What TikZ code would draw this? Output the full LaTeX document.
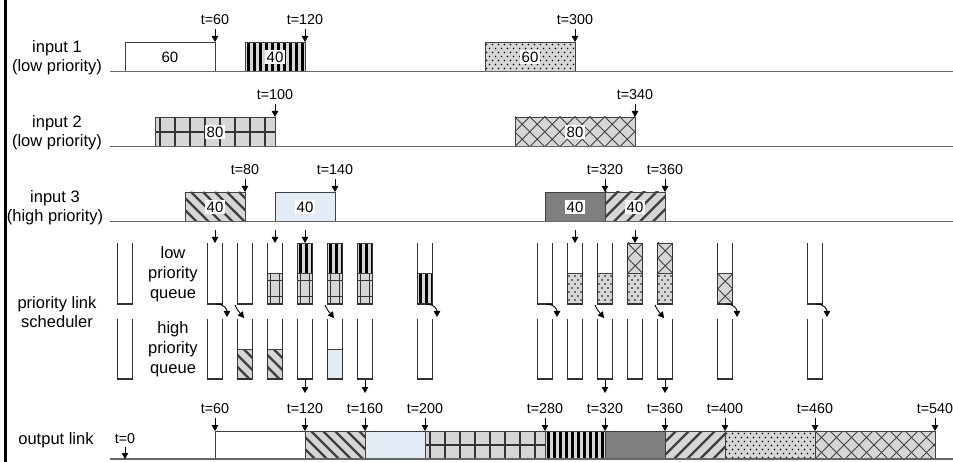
\documentclass[tikz,border=0pt]{standalone}
\usepackage{fontspec}
\setmainfont{Liberation Sans}
\usetikzlibrary{arrows.meta}
\definecolor{pg}{HTML}{D6D6D6}
\definecolor{lblue}{HTML}{E4EBF5}
\definecolor{dgray}{HTML}{7F7F7F}
\tikzset{
 lbl/.style={font=\fontsize{16.5}{19}\selectfont, align=center, inner sep=0pt},
 qlbl/.style={font=\fontsize{16.5}{20}\selectfont, align=center, inner sep=0pt},
 tlbl/.style={font=\fontsize{14.3}{15}\selectfont, inner sep=0pt},
 num/.style={font=\fontsize{15}{16}\selectfont, fill=white, inner sep=1.5pt},
 arr/.style={-{Triangle[length=6pt,width=6.5pt]}, line width=0.9pt, draw=black},
 bx/.style={draw=black!75, line width=0.8pt},
 gl/.style={draw=black!80, line width=1.7pt},
 cl/.style={draw=black!75, line width=1pt},
 hl/.style={draw=black!75, line width=2.2pt},
 baseln/.style={draw=black!60, line width=1.5pt},
 tube/.style={draw=black!80, line width=1.1pt},
}
% plain boxes
\newcommand{\bxw}[4]{\filldraw[bx, fill=white] (#1,#2) rectangle (#3,#4);}
\newcommand{\bxb}[4]{\filldraw[bx, fill=lblue] (#1,#2) rectangle (#3,#4);}
\newcommand{\bxd}[4]{\filldraw[bx, fill=dgray] (#1,#2) rectangle (#3,#4);}
% vertical stripes
\newcommand{\bxs}[4]{\fill[pg] (#1,#2) rectangle (#3,#4);
 \begin{scope}\clip (#1,#2) rectangle (#3,#4);
 \foreach \ii in {0,...,20}{\fill[black] ({#1+1.5+6*\ii},#2) rectangle ({#1+4.5+6*\ii},#4);}
 \end{scope}\draw[bx] (#1,#2) rectangle (#3,#4);}
% grid
\newcommand{\bxg}[4]{\fill[pg] (#1,#2) rectangle (#3,#4);
 \begin{scope}\clip (#1,#2) rectangle (#3,#4);
 \foreach \ii in {0,...,10}{\draw[gl] ({#1+5+15*\ii},#2) -- ({#1+5+15*\ii},#4);}
 \draw[gl] (#1,{(#2+#4)/2}) -- (#3,{(#2+#4)/2});
 \end{scope}\draw[bx] (#1,#2) rectangle (#3,#4);}
% grid in a queue cell
\newcommand{\qgr}[4]{\fill[pg] (#1,#2) rectangle (#3,#4);
 \begin{scope}\clip (#1,#2) rectangle (#3,#4);
 \draw[gl] ({#1+3},#2) -- ({#1+3},#4);
 \draw[gl] ({#1+12},#2) -- ({#1+12},#4);
 \draw[gl] (#1,{#2+7}) -- (#3,{#2+7});
 \draw[gl] (#1,{#2+23}) -- (#3,{#2+23});
 \end{scope}\draw[bx] (#1,#2) rectangle (#3,#4);}
% dots
\newcommand{\bxp}[4]{\fill[pg] (#1,#2) rectangle (#3,#4);
 \begin{scope}\clip (#1,#2) rectangle (#3,#4);
 \foreach \ii in {0,...,16}{\foreach \jj in {0,...,7}{\fill[black] ({#1+1.5+6*\ii+3*mod(\jj,2)},{#2+2.5+4*\jj}) circle (0.9);}}
 \end{scope}\draw[bx] (#1,#2) rectangle (#3,#4);}
% cross hatch
\newcommand{\bxc}[4]{\fill[pg] (#1,#2) rectangle (#3,#4);
 \begin{scope}\clip (#1,#2) rectangle (#3,#4);
 \foreach \ii in {0,...,12}{\draw[cl] ({#1-30+15*\ii},#2) -- ++(45,45); \draw[cl] ({#1-30+15*\ii},#4) -- ++(45,-45);}
 \end{scope}\draw[bx] (#1,#2) rectangle (#3,#4);}
% hatch NW (\\\)
\newcommand{\bxn}[4]{\fill[pg] (#1,#2) rectangle (#3,#4);
 \begin{scope}\clip (#1,#2) rectangle (#3,#4);
 \foreach \ii in {0,...,14}{\draw[hl] ({#1-30+12*\ii},#2) -- ++(45,45);}
 \end{scope}\draw[bx] (#1,#2) rectangle (#3,#4);}
% hatch NE (///)
\newcommand{\bxe}[4]{\fill[pg] (#1,#2) rectangle (#3,#4);
 \begin{scope}\clip (#1,#2) rectangle (#3,#4);
 \foreach \ii in {0,...,14}{\draw[hl] ({#1-30+13*\ii},#4) -- ++(45,-45);}
 \end{scope}\draw[bx] (#1,#2) rectangle (#3,#4);}
% time mark: name, x, ylabel, yend, text
\newcommand{\tmark}[5]{\node[tlbl] (#1) at (#2,#3) {#5};
 \coordinate (#1e) at (#2,#4);
 \draw[arr, shorten <=3.5pt] (#1.south) -- (#1e);}
\begin{document}
\begin{tikzpicture}[x=1pt,y=-1pt]
\useasboundingbox (0,0) rectangle (953,462);
\fill[white] (0,0) rectangle (953,462);
% left bar
\draw[line width=3pt] (5.5,0) -- (5.5,462);

% labels
\node[lbl] (in1) at (57,58) {input 1\\(low priority)};
\node[lbl] (in2) at (57,132.5) {input 2\\(low priority)};
\node[lbl] (in3) at (55,207.5) {input 3\\(high priority)};
\node[lbl] (sch) at (57,312) {priority link\\scheduler};
\node[lbl] (out) at (56,440) {output link};
\node[qlbl] (lq) at (173,274) {low\\priority\\queue};
\node[qlbl] (hq) at (173,349.5) {high\\priority\\queue};

% input 1
\bxw{125}{42}{215}{71.5}
\bxs{245}{42}{305}{71.5}
\bxp{485}{42}{575}{71.5}
\draw[baseln] (110,71.5) -- (953,71.5);
\node[num, fill=none] (p1) at (170,57) {60};
\node[num] (p2) at (275,57) {40};
\node[num] (p3) at (530,57) {60};
\tmark{a1}{215}{20}{42}{t=60}
\tmark{a2}{305}{20}{42}{t=120}
\tmark{a3}{575}{20}{42}{t=300}

% input 2
\bxg{155}{117}{275}{146.5}
\bxc{515}{117}{635}{146.5}
\draw[baseln] (110,146.5) -- (953,146.5);
\node[num] (p4) at (215,132) {80};
\node[num] (p5) at (575,132) {80};
\tmark{b1}{275}{95}{117}{t=100}
\tmark{b2}{635}{95}{117}{t=340}

% input 3
\bxn{185}{192}{245}{221.5}
\bxb{275}{192}{335}{221.5}
\bxd{545}{192}{605}{221.5}
\bxe{605}{192}{665}{221.5}
\draw[baseln] (110,221.5) -- (953,221.5);
\node[num] (p6) at (215,207) {40};
\node[num] (p7) at (305,207) {40};
\node[num] (p8) at (575,207) {40};
\node[num] (p9) at (635,207) {40};
\tmark{c1}{245}{170}{192}{t=80}
\tmark{c2}{335}{170}{192}{t=140}
\tmark{c3}{605}{170}{192}{t=320}
\tmark{c4}{665}{170}{192}{t=360}

% queue contents (low: 243-304, high: 319-379)
\qgr{267.5}{273.5}{282.5}{304}
\bxs{297.5}{243}{312.5}{273.5} \qgr{297.5}{273.5}{312.5}{304}
\bxs{327.5}{243}{342.5}{273.5} \qgr{327.5}{273.5}{342.5}{304}
\bxs{357.5}{243}{372.5}{273.5} \qgr{357.5}{273.5}{372.5}{304}
\bxs{417.5}{273.5}{432.5}{304}
\bxp{567.5}{273.5}{582.5}{304}
\bxp{597.5}{273.5}{612.5}{304}
\bxc{627.5}{243}{642.5}{273.5} \bxp{627.5}{273.5}{642.5}{304}
\bxc{657.5}{243}{672.5}{273.5} \bxp{657.5}{273.5}{672.5}{304}
\bxc{717.5}{273.5}{732.5}{304}
\bxn{237.5}{349}{252.5}{379}
\bxn{267.5}{349}{282.5}{379}
\bxb{327.5}{349}{342.5}{379}

% tubes
\foreach \x in {125,215,245,275,305,335,365,425,545,575,605,635,665,725,815}{
 \draw[tube] ({\x-7.5},243) -- ({\x-7.5},304) -- ({\x+7.5},304) -- ({\x+7.5},243);
 \draw[tube] ({\x-7.5},319) -- ({\x-7.5},379) -- ({\x+7.5},379) -- ({\x+7.5},319);
}
% arrows into low queue
\foreach \x in {215,275,305,575,635}{
 \coordinate (qt\x) at (\x,230); \coordinate (qb\x) at (\x,243);
 \draw[arr] (qt\x) -- (qb\x);
}
% arrows out of high queue
\foreach \x in {305,365,605,665}{
 \coordinate (ht\x) at (\x,380); \coordinate (hb\x) at (\x,393);
 \draw[arr] (ht\x) -- (hb\x);
}
% curved arrows leaving low queue
\foreach \x in {215,425,545,725,815}{
 \coordinate (ca\x) at ({\x+1},304); \coordinate (cb\x) at ({\x+12},317);
 \draw[arr] (ca\x) .. controls +(8,0) and +(0,-8) .. (cb\x);
}
% arrows entering high queue
\foreach \x in {245,335,605,665}{
 \coordinate (da\x) at ({\x-10},305); \coordinate (db\x) at ({\x-1},318);
 \draw[arr] (da\x) .. controls +(2,5) and +(-4,-5) .. (db\x);
}

% output link
\bxw{215}{431}{305}{459}
\bxn{305}{431}{365}{459}
\bxb{365}{431}{425}{459}
\bxg{425}{431}{545}{459}
\bxs{545}{431}{605}{459}
\bxd{605}{431}{665}{459}
\bxe{665}{431}{725}{459}
\bxp{725}{431}{815}{459}
\bxc{815}{431}{935}{459}
\draw[baseln] (110,459) -- (953,459);
\tmark{o1}{215}{409}{431}{t=60}
\tmark{o2}{305}{409}{431}{t=120}
\tmark{o3}{365}{409}{431}{t=160}
\tmark{o4}{425}{409}{431}{t=200}
\tmark{o5}{545}{409}{431}{t=280}
\tmark{o6}{605}{409}{431}{t=320}
\tmark{o7}{665}{409}{431}{t=360}
\tmark{o8}{725}{409}{431}{t=400}
\tmark{o9}{815}{409}{431}{t=460}
\tmark{o10}{935}{409}{431}{t=540}
\tmark{o0}{125}{438.5}{459}{t=0}
\end{tikzpicture}
\end{document}
